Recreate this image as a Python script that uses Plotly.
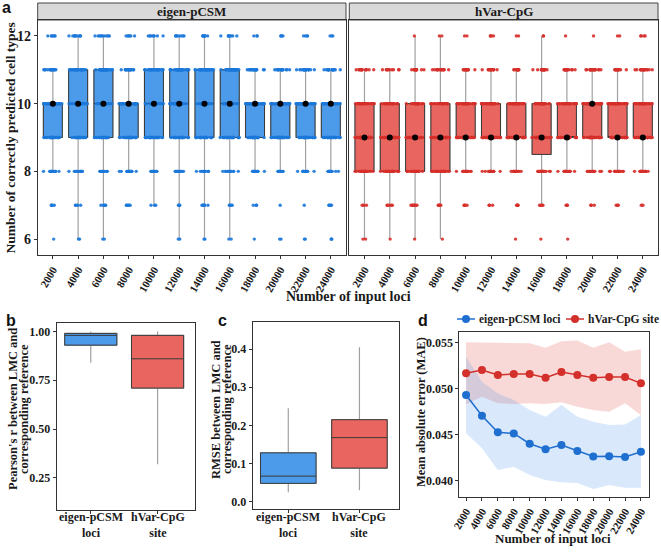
import numpy as np
import plotly.graph_objects as go

# ---------------- data ----------------
loci = ['2000', '4000', '6000', '8000', '10000', '12000', '14000',
        '16000', '18000', '20000', '22000', '24000']
loci_num = [2000, 4000, 6000, 8000, 10000, 12000, 14000, 16000, 18000, 20000, 22000, 24000]
score_levels = [6, 7, 8, 9, 10, 11, 12]

# counts of runs per number of correctly predicted cell types (levels 6..12)
eigen_counts = [
    [1, 4, 14, 25, 30, 15, 6],
    [2, 4, 12, 22, 25, 25, 10],
    [2, 5, 10, 22, 24, 27, 10],
    [0, 5, 15, 25, 33, 16, 6],
    [0, 3, 10, 25, 25, 25, 8],
    [2, 3, 12, 23, 24, 27, 8],
    [2, 6, 12, 22, 24, 26, 7],
    [2, 4, 12, 24, 22, 27, 8],
    [1, 3, 12, 24, 35, 18, 3],
    [2, 1, 10, 28, 35, 16, 4],
    [2, 1, 12, 27, 34, 18, 4],
    [3, 4, 12, 25, 33, 17, 3],
]
hvar_counts = [
    [2, 3, 22, 30, 25, 13, 0],
    [1, 5, 24, 30, 22, 10, 0],
    [1, 7, 20, 30, 22, 12, 1],
    [1, 5, 24, 28, 24, 15, 2],
    [0, 4, 15, 35, 30, 12, 2],
    [0, 3, 15, 36, 28, 13, 4],
    [1, 4, 15, 35, 30, 10, 2],
    [1, 4, 20, 33, 26, 14, 2],
    [1, 3, 15, 35, 30, 14, 1],
    [0, 3, 14, 28, 35, 18, 1],
    [0, 3, 15, 36, 32, 12, 2],
    [0, 2, 16, 32, 30, 16, 4],
]

# box statistics panel a
eigen_q1 = [9, 9, 9, 9, 9, 9, 9, 9, 9, 9, 9, 9]
eigen_med = [10, 10, 10, 10, 10, 10, 10, 10, 10, 10, 10, 10]
eigen_q3 = [10, 11, 11, 10, 11, 11, 11, 11, 10, 10, 10, 10]
eigen_lo = [8, 6, 6, 8, 7, 6, 6, 6, 8, 8, 8, 8]
eigen_hi = [11, 12, 12, 11, 12, 12, 12, 12, 11, 11, 11, 11]

hvar_q1 = [8, 8, 8, 8, 9, 9, 9, 8.5, 9, 9, 9, 9]
hvar_med = [9, 9, 9, 9, 9, 9, 9, 9, 9, 10, 9, 9]
hvar_q3 = [10, 10, 10, 10, 10, 10, 10, 10, 10, 10, 10, 10]
hvar_lo = [6, 6, 6, 6, 8, 8, 8, 7, 8, 8, 8, 8]
hvar_hi = [11, 11, 12, 12, 11, 11, 11, 12, 11, 11, 11, 11]

# panel b / c
method_labels = ['eigen-pCSM<br>loci', 'hVar-CpG<br>site']
pearson_q1 = [0.93, 0.71]
pearson_med = [0.98, 0.86]
pearson_q3 = [0.99, 0.98]
pearson_lo = [0.84, 0.32]
pearson_hi = [1.00, 1.00]

rmse_q1 = [0.048, 0.088]
rmse_med = [0.067, 0.168]
rmse_q3 = [0.128, 0.215]
rmse_lo = [0.025, 0.030]
rmse_hi = [0.245, 0.405]

# panel d
series_names = ['eigen-pCSM loci', 'hVar-CpG site']
mae_eigen = [0.04927, 0.04702, 0.04522, 0.04510, 0.04398, 0.04337, 0.04384,
             0.04318, 0.04260, 0.04262, 0.04253, 0.04311]
mae_eigen_hi = [0.05344, 0.05072, 0.04945, 0.04873, 0.04764, 0.04691, 0.04820,
                0.04690, 0.04637, 0.04601, 0.04608, 0.04710]
mae_eigen_lo = [0.04511, 0.04348, 0.04112, 0.04148, 0.04058, 0.04003, 0.03980,
                0.03970, 0.03905, 0.03950, 0.03920, 0.03920]
mae_hvar = [0.05163, 0.05199, 0.05145, 0.05156, 0.05156, 0.05115, 0.05178,
            0.05145, 0.05115, 0.05123, 0.05123, 0.05054]
mae_hvar_hi = [0.05500, 0.05497, 0.05497, 0.05490, 0.05490, 0.05441, 0.05513,
               0.05520, 0.05440, 0.05500, 0.05398, 0.05425]
mae_hvar_lo = [0.04826, 0.04909, 0.04838, 0.04830, 0.04838, 0.04830, 0.04850,
               0.04800, 0.04764, 0.04746, 0.04838, 0.04710]

# ---------------- style ----------------
SERIF = 'Liberation Serif'
BLUE_FILL = '#4C9BEB'
BLUE_PT = '#1B78DA'
RED_FILL = '#E8665F'
RED_PT = '#D62F2A'
BLUE_LINE = '#1F6FD1'
RED_LINE = '#D3302B'
TXT = '#1a1a1a'

fig = go.Figure()


def px_x(p):
    return p / 661.0


def px_y(p):
    return 1 - p / 552.0


def add_stat_box(x, q1, med, q3, lo, hi, fill, xa, ya, width):
    # whiskers (light grey)
    fig.add_trace(go.Box(x=x, q1=q1, median=med, q3=q3, lowerfence=lo, upperfence=hi,
                         fillcolor=fill, line=dict(color='#a0a0a0', width=1.2),
                         whiskerwidth=0, width=width, boxpoints=False,
                         xaxis=xa, yaxis=ya, showlegend=False, hoverinfo='skip'))
    # box body (dark outline)
    fig.add_trace(go.Box(x=x, q1=q1, median=med, q3=q3, lowerfence=q1, upperfence=q3,
                         fillcolor=fill, line=dict(color='#3a3a3a', width=1),
                         whiskerwidth=0, width=width, boxpoints=False,
                         xaxis=xa, yaxis=ya, showlegend=False, hoverinfo='skip'))


def add_points(counts, color, xa, ya):
    xs, ys = [], []
    for cat, c in zip(loci, counts):
        for lev, n in zip(score_levels, c):
            xs += [cat] * n
            ys += [lev] * n
    fig.add_trace(go.Box(x=xs, y=ys, boxpoints='all', jitter=0.95, pointpos=0,
                         fillcolor='rgba(0,0,0,0)', line=dict(width=0, color='rgba(0,0,0,0)'),
                         marker=dict(color=color, size=3.4, opacity=0.9), width=0.8,
                         xaxis=xa, yaxis=ya, showlegend=False, hoverinfo='skip'))


# panel a
add_stat_box(loci, eigen_q1, eigen_med, eigen_q3, eigen_lo, eigen_hi, BLUE_FILL, 'x', 'y', 0.75)
add_points(eigen_counts, BLUE_PT, 'x', 'y')
fig.add_trace(go.Scatter(x=loci, y=eigen_med, mode='markers', marker=dict(color='black', size=6),
                         xaxis='x', yaxis='y', showlegend=False, hoverinfo='skip'))
add_stat_box(loci, hvar_q1, hvar_med, hvar_q3, hvar_lo, hvar_hi, RED_FILL, 'x2', 'y2', 0.75)
add_points(hvar_counts, RED_PT, 'x2', 'y2')
fig.add_trace(go.Scatter(x=loci, y=hvar_med, mode='markers', marker=dict(color='black', size=6),
                         xaxis='x2', yaxis='y2', showlegend=False, hoverinfo='skip'))

# panel b
for i, fill in enumerate([BLUE_FILL, RED_FILL]):
    add_stat_box([i], [pearson_q1[i]], [pearson_med[i]], [pearson_q3[i]],
                 [pearson_lo[i]], [pearson_hi[i]], fill, 'x3', 'y3', 0.78)
# panel c
for i, fill in enumerate([BLUE_FILL, RED_FILL]):
    add_stat_box([i], [rmse_q1[i]], [rmse_med[i]], [rmse_q3[i]],
                 [rmse_lo[i]], [rmse_hi[i]], fill, 'x4', 'y4', 0.78)

# panel d ribbons
fig.add_trace(go.Scatter(x=loci_num, y=mae_hvar_lo, mode='lines', line=dict(width=0),
                         xaxis='x5', yaxis='y5', showlegend=False, hoverinfo='skip'))
fig.add_trace(go.Scatter(x=loci_num, y=mae_hvar_hi, mode='lines', line=dict(width=0),
                         fill='tonexty', fillcolor='rgba(232,105,95,0.25)',
                         xaxis='x5', yaxis='y5', showlegend=False, hoverinfo='skip'))
fig.add_trace(go.Scatter(x=loci_num, y=mae_eigen_lo, mode='lines', line=dict(width=0),
                         xaxis='x5', yaxis='y5', showlegend=False, hoverinfo='skip'))
fig.add_trace(go.Scatter(x=loci_num, y=mae_eigen_hi, mode='lines', line=dict(width=0),
                         fill='tonexty', fillcolor='rgba(80,150,230,0.22)',
                         xaxis='x5', yaxis='y5', showlegend=False, hoverinfo='skip'))
fig.add_trace(go.Scatter(x=loci_num, y=mae_eigen, mode='lines+markers', name=series_names[0],
                         line=dict(color=BLUE_LINE, width=1.5), marker=dict(color=BLUE_LINE, size=8),
                         xaxis='x5', yaxis='y5', showlegend=False))
fig.add_trace(go.Scatter(x=loci_num, y=mae_hvar, mode='lines+markers', name=series_names[1],
                         line=dict(color=RED_LINE, width=1.5), marker=dict(color=RED_LINE, size=8),
                         xaxis='x5', yaxis='y5', showlegend=False))

# ---------------- axes ----------------
base = dict(showline=True, linecolor='#333333', linewidth=1, mirror=True, showgrid=False,
            zeroline=False, ticks='outside', ticklen=3, tickcolor='#333333', automargin=False,
            tickfont=dict(family=SERIF, size=11, color=TXT, weight='bold'))
f115 = dict(family=SERIF, size=11.5, color=TXT, weight='bold')
f12 = dict(family=SERIF, size=12, color=TXT, weight='bold')
f13 = dict(family=SERIF, size=13, color=TXT, weight='bold')

ya_dom = [px_y(255), px_y(20)]
fig.update_layout(
    xaxis=dict(base, domain=[px_x(37.7), px_x(346)], anchor='y', type='category',
               categoryorder='array', categoryarray=loci, range=[-0.6, 11.6], tickangle=-60),
    yaxis=dict(base, domain=ya_dom, anchor='x', range=[5.53, 12.47], tickvals=[6, 8, 10, 12],
               tickfont=dict(family=SERIF, size=14, color=TXT, weight='bold')),
    xaxis2=dict(base, domain=[px_x(349.3), px_x(658)], anchor='y2', type='category',
                categoryorder='array', categoryarray=loci, range=[-0.6, 11.6], tickangle=-60),
    yaxis2=dict(base, domain=ya_dom, anchor='x2', range=[5.53, 12.47], showticklabels=False,
                ticks=''),
    xaxis3=dict(base, domain=[px_x(56.7), px_x(195)], anchor='y3', range=[-0.51, 1.56],
                tickvals=[0, 1], showticklabels=False),
    yaxis3=dict(base, domain=[px_y(510), px_y(322.7)], anchor='x3', range=[0.085, 1.045],
                tickvals=[0.25, 0.5, 0.75, 1.0], tickformat='.2f', tickfont=f12),
    xaxis4=dict(base, domain=[px_x(252.7), px_x(399.3)], anchor='y4', range=[-0.5, 1.56],
                tickvals=[0, 1], showticklabels=False),
    yaxis4=dict(base, domain=[px_y(509.3), px_y(321.7)], anchor='x4', range=[-0.02, 0.472],
                tickvals=[0, 0.1, 0.2, 0.3, 0.4], tickformat='.1f', tickfont=f12),
    xaxis5=dict(base, domain=[px_x(459.3), px_x(649.3)], anchor='y5', range=[1150, 25050],
                tickvals=loci_num, ticktext=loci, tickangle=-60),
    yaxis5=dict(base, domain=[px_y(496.7), px_y(332.3)], anchor='x5', range=[0.03822, 0.05609],
                tickvals=[0.04, 0.045, 0.05, 0.055], tickformat='.3f', tickfont=f12),
)

# ---------------- strips, titles, letters, legend ----------------
shapes = []
annotations = []
for (x0, x1, label) in [(37.7, 346, 'eigen-pCSM'), (349.3, 658, 'hVar-CpG')]:
    shapes.append(dict(type='rect', xref='paper', yref='paper', x0=px_x(x0), x1=px_x(x1),
                       y0=px_y(20), y1=px_y(3), fillcolor='#D9D9D9',
                       line=dict(color='#444444', width=1), layer='below'))
    annotations.append(dict(text=label, xref='paper', yref='paper', x=px_x((x0 + x1) / 2),
                            y=px_y(11.5), showarrow=False, xanchor='center', yanchor='middle',
                            font=f13))

# two-line category labels of panels b and c, placed on the category axis
for xref in ['x3', 'x4']:
    for i in range(2):
        annotations.append(dict(text=method_labels[i], xref=xref, yref='paper', x=i,
                                y=px_y(524.5), showarrow=False, xanchor='center',
                                yanchor='middle', font=f12))


def title(text, x, y, size=14, angle=0):
    annotations.append(dict(text=text, xref='paper', yref='paper', x=px_x(x), y=px_y(y),
                            showarrow=False, xanchor='center', yanchor='middle', textangle=angle,
                            font=dict(family=SERIF, size=size, color=TXT, weight='bold')))


title('Number of input loci', 348, 296, 14)
title('Number of correctly predicted cell types', 9.5, 138, 13.5, -90)
title("Pearson's r between LMC and", 13, 409, 12.5, -90)
title('corresponding reference', 24, 409, 12.5, -90)
title('RMSE between LMC and', 216, 409, 12.5, -90)
title('corresponding reference', 227, 409, 12.5, -90)
title('Mean absolute error (MAE)', 421, 412, 12.5, -90)
title('Number of input loci', 553, 538, 13)

for letter, x, y in [('a', 6, 8), ('b', 11, 320), ('c', 222, 320), ('d', 423, 320)]:
    annotations.append(dict(text=letter, xref='paper', yref='paper', x=px_x(x), y=px_y(y),
                            showarrow=False, xanchor='center', yanchor='middle',
                            font=dict(family='Liberation Sans', size=16, color='#111111',
                                      weight='bold')))

# legend of panel d (key glyphs + labels)
for (k0, k1, tx, col, name) in [(457, 475, 477, BLUE_LINE, series_names[0]),
                                (566, 584, 586, RED_LINE, series_names[1])]:
    shapes.append(dict(type='line', xref='paper', yref='paper', x0=px_x(k0), x1=px_x(k1),
                       y0=px_y(319), y1=px_y(319), line=dict(color=col, width=1.5)))
    cx = (k0 + k1) / 2
    shapes.append(dict(type='circle', xref='paper', yref='paper', x0=px_x(cx - 4),
                       x1=px_x(cx + 4), y0=px_y(323), y1=px_y(315), fillcolor=col,
                       line=dict(color=col, width=0)))
    annotations.append(dict(text=name, xref='paper', yref='paper', x=px_x(tx), y=px_y(319),
                            showarrow=False, xanchor='left', yanchor='middle', font=f115))

fig.update_layout(
    template='none',
    width=661, height=552, margin=dict(l=0, r=0, t=0, b=0, autoexpand=False),
    paper_bgcolor='white', plot_bgcolor='white',
    font=dict(family=SERIF, color=TXT, weight='bold'),
    boxmode='overlay', shapes=shapes, annotations=annotations, showlegend=False,
)

fig.write_html('out.html', config={'displayModeBar': False},
               post_script="document.body.style.margin='0';document.body.style.padding='0';"
                           "document.body.style.overflow='hidden';")
